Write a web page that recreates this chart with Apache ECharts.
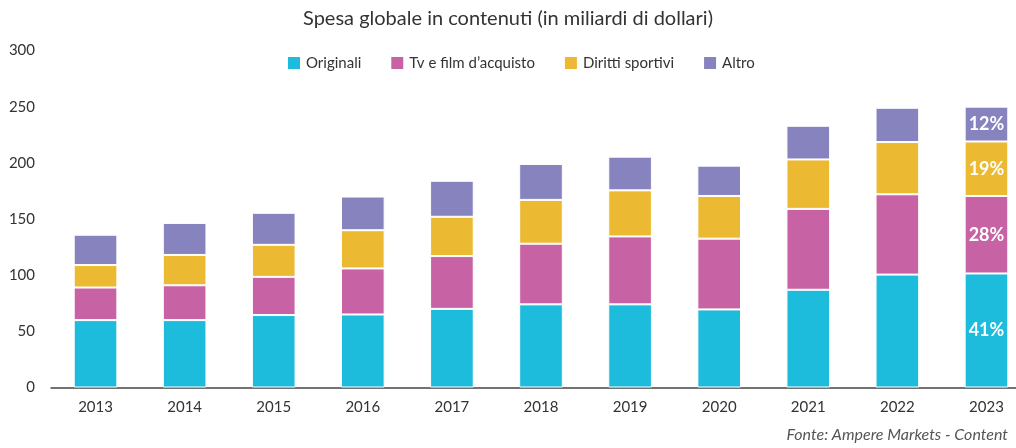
<!DOCTYPE html>
<html>
<head>
<meta charset="utf-8">
<script src="https://cdn.jsdelivr.net/npm/echarts@6/dist/echarts.min.js"></script>
<style>
  html, body { margin: 0; padding: 0; background: #fff; }
  #main { width: 1016px; height: 448px; }
</style>
</head>
<body>
<div id="main"></div>
<script>
// dati
var anni = ['2013', '2014', '2015', '2016', '2017', '2018', '2019', '2020', '2021', '2022', '2023'];
var originali = [60, 60, 64.5, 65, 70, 74, 74, 69.5, 87, 100.5, 101.5];
var tvFilm = [29, 31, 34, 41, 47, 54, 60.5, 63, 72, 71.5, 69];
var sport = [20, 27, 28.5, 34, 35, 39, 41, 38, 44, 46.5, 48.5];
var altro = [27, 28.5, 28.5, 30, 32, 32, 30, 27, 30, 30.5, 31];
// quote percentuali mostrate solo sull'ultima barra
var quote2023 = ['41%', '28%', '19%', '12%'];
var yTicks = [0, 50, 100, 150, 200, 250, 300];

var font = 'Lato, "Open Sans", sans-serif';
var chart = echarts.init(document.getElementById('main'));

function serie(nome, dati, colore, idx) {
	return {
		name: nome,
		type: 'bar',
		stack: 'tot',
		barWidth: '49%',
		data: dati,
		itemStyle: {
			color: colore,
			borderColor: '#fff',
			borderWidth: 1
		},
		label: {
			show: true,
			position: 'inside',
			color: '#fff',
			fontFamily: font,
			fontWeight: 'bold',
			fontSize: 18,
			formatter: function (p) {
				return p.dataIndex === anni.length - 1 ? quote2023[idx] : '';
			}
		}
	};
}

chart.setOption({
	animation: false,
	textStyle: { fontFamily: font },
	title: {
		text: 'Spesa globale in contenuti (in miliardi di dollari)',
		left: 'center',
		top: 4,
		textStyle: { fontFamily: font, fontSize: 20, fontWeight: 'normal', color: '#333' }
	},
	legend: {
		top: 50,
		left: 281,
		itemWidth: 14,
		itemHeight: 14,
		itemGap: 28,
		icon: 'rect',
		textStyle: { fontFamily: font, fontSize: 15, color: '#333' }
	},
	graphic: [{
		type: 'text',
		right: 8,
		top: 427,
		style: {
			text: 'Fonte: Ampere Markets - Content',
			font: 'italic 16px ' + font,
			fill: '#555'
		}
	}],
	grid: {
		left: 51,
		width: 980,
		top: 50.5,
		height: 337,
		containLabel: false,
		outerBoundsMode: 'none'
	},
	xAxis: {
		type: 'category',
		data: anni,
		axisLine: { lineStyle: { color: '#444', width: 1.5 } },
		axisTick: { show: false },
		axisLabel: { color: '#333', fontSize: 15, margin: 12, fontFamily: font }
	},
	yAxis: {
		type: 'value',
		min: yTicks[0],
		max: yTicks[yTicks.length - 1],
		interval: 50,
		splitLine: { show: false },
		axisLine: { show: false },
		axisTick: { show: false },
		axisLabel: { color: '#333', fontSize: 15, margin: 16, fontFamily: font }
	},
	series: [
		serie('Originali', originali, '#1DBBDC', 0),
		serie('Tv e film d\u2019acquisto', tvFilm, '#C763A4', 1),
		serie('Diritti sportivi', sport, '#ECB932', 2),
		serie('Altro', altro, '#8683BF', 3)
	]
});
</script>
</body>
</html>
